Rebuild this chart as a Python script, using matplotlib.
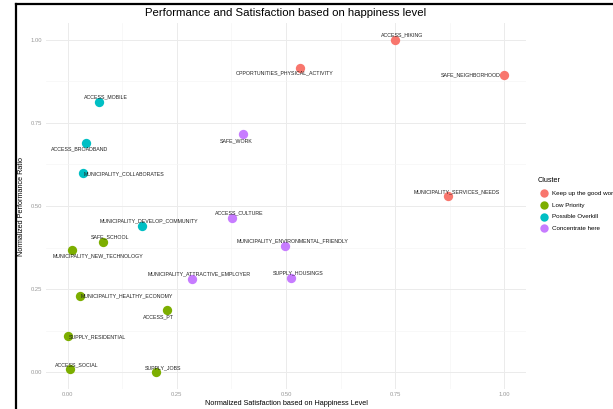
import matplotlib
matplotlib.use("Agg")
import matplotlib.pyplot as plt
from matplotlib.lines import Line2D
from matplotlib.ticker import MultipleLocator

plt.rcParams['font.family'] = ['Liberation Sans', 'DejaVu Sans']

# data
names = ["ACCESS_HIKING", "OPPORTUNITIES_PHYSICAL_ACTIVITY", "SAFE_NEIGHBORHOOD",
         "MUNICIPALITY_SERVICES_NEEDS", "ACCESS_MOBILE", "ACCESS_BROADBAND",
         "MUNICIPALITY_COLLABORATES", "SAFE_WORK", "ACCESS_CULTURE",
         "MUNICIPALITY_DEVELOP_COMMUNITY", "SAFE_SCHOOL", "MUNICIPALITY_NEW_TECHNOLOGY",
         "MUNICIPALITY_ENVIRONMENTAL_FRIENDLY", "MUNICIPALITY_ATTRACTIVE_EMPLOYER",
         "SUPPLY_HOUSINGS", "MUNICIPALITY_HEALTHY_ECONOMY", "ACCESS_PT",
         "SUPPLY_RESIDENTIAL", "ACCESS_SOCIAL", "SUPPLY_JOBS"]
satisfaction = [0.750, 0.532, 1.000, 0.872, 0.071, 0.041, 0.034, 0.401, 0.376, 0.170,
                0.080, 0.009, 0.498, 0.284, 0.511, 0.028, 0.227, 0.000, 0.005, 0.202]
performance = [1.000, 0.916, 0.895, 0.529, 0.814, 0.688, 0.598, 0.715, 0.465, 0.441,
               0.393, 0.369, 0.381, 0.282, 0.285, 0.231, 0.186, 0.108, 0.009, 0.000]
cluster = ["Keep up the good work", "Keep up the good work", "Keep up the good work",
           "Keep up the good work", "Possible Overkill", "Possible Overkill",
           "Possible Overkill", "Concentrate here", "Concentrate here",
           "Possible Overkill", "Low Priority", "Low Priority", "Concentrate here",
           "Concentrate here", "Concentrate here", "Low Priority", "Low Priority",
           "Low Priority", "Low Priority", "Low Priority"]
cluster_order = ["Keep up the good work", "Low Priority", "Possible Overkill", "Concentrate here"]
colors = {"Keep up the good work": "#F8766D", "Low Priority": "#7CAE00",
          "Possible Overkill": "#00BFC4", "Concentrate here": "#C77CFF"}

# label placement (pixels from point) - repel-style by hand
label_offsets = [(7, 5, 'center'), (-15, -5, 'center'), (-4, 0, 'right'), (8, 5, 'center'),
                 (7, 5, 'center'), (-6, -5, 'center'), (1, 0, 'left'), (-7, -6, 'center'),
                 (7, 5, 'center'), (7, 5, 'center'), (7, 5, 'center'), (26, -6, 'center'),
                 (7, 5, 'center'), (7, 5, 'center'), (7, 5, 'center'), (1, 0, 'left'),
                 (-8, -6, 'center'), (1, 0, 'left'), (7, 5, 'center'), (7, 5, 'center')]

W, H = 613, 409
fig = plt.figure(figsize=(W / 100, H / 100), dpi=100)
ax = fig.add_axes([46 / W, 1 - 389 / H, 480 / W, 366 / H])

for c in cluster_order:
    xs = [satisfaction[i] for i in range(len(names)) if cluster[i] == c]
    ys = [performance[i] for i in range(len(names)) if cluster[i] == c]
    ax.scatter(xs, ys, s=45, color=colors[c], label=c, linewidths=0, zorder=3)

for i, n in enumerate(names):
    dx, dy, ha = label_offsets[i]
    ax.annotate(n, (satisfaction[i], performance[i]), xytext=(dx, dy),
                textcoords='offset pixels', ha=ha, va='center',
                fontsize=3.8, color='#222222', zorder=4)

ax.set_xlim(-0.05, 1.05)
ax.set_ylim(-0.05, 1.05)
ax.xaxis.set_major_locator(MultipleLocator(0.25))
ax.yaxis.set_major_locator(MultipleLocator(0.25))
ax.xaxis.set_minor_locator(MultipleLocator(0.125))
ax.yaxis.set_minor_locator(MultipleLocator(0.125))
ax.xaxis.set_major_formatter(lambda v, p: f"{v:.2f}")
ax.yaxis.set_major_formatter(lambda v, p: f"{v:.2f}")
ax.grid(True, which='major', color='#ebebeb', linewidth=0.7)
ax.grid(True, which='minor', color='#f5f5f5', linewidth=0.5)
ax.set_axisbelow(True)
for s in ax.spines.values():
    s.set_visible(False)
ax.tick_params(which='both', length=0, labelsize=4.2, labelcolor='#999999')
ax.tick_params(axis='x', pad=2.5)
ax.tick_params(axis='y', pad=3)

ax.set_title("Performance and Satisfaction based on happiness level", fontsize=8.2, pad=5)
ax.set_xlabel("Normalized Satisfaction based on Happiness Level", fontsize=5.2, labelpad=1.5)
ax.set_ylabel("Normalized Performance Ratio", fontsize=5.2, labelpad=4)

leg = ax.legend(loc='upper left', bbox_to_anchor=(535 / W, 1 - 175 / H),
                bbox_transform=fig.transFigure, frameon=False, title="Cluster",
                fontsize=4.5, title_fontsize=5.2, handletextpad=0.3,
                labelspacing=1.0, markerscale=0.9, borderaxespad=0)
leg._legend_box.align = 'left'

# screenshot border
fig.add_artist(Line2D([15.5 / W, 15.5 / W], [0, 1 - 3.5 / H], color='black', lw=1.6))
fig.add_artist(Line2D([15.5 / W, 1], [1 - 3.5 / H, 1 - 3.5 / H], color='black', lw=1.6))

fig.savefig("out.png", dpi=100)
